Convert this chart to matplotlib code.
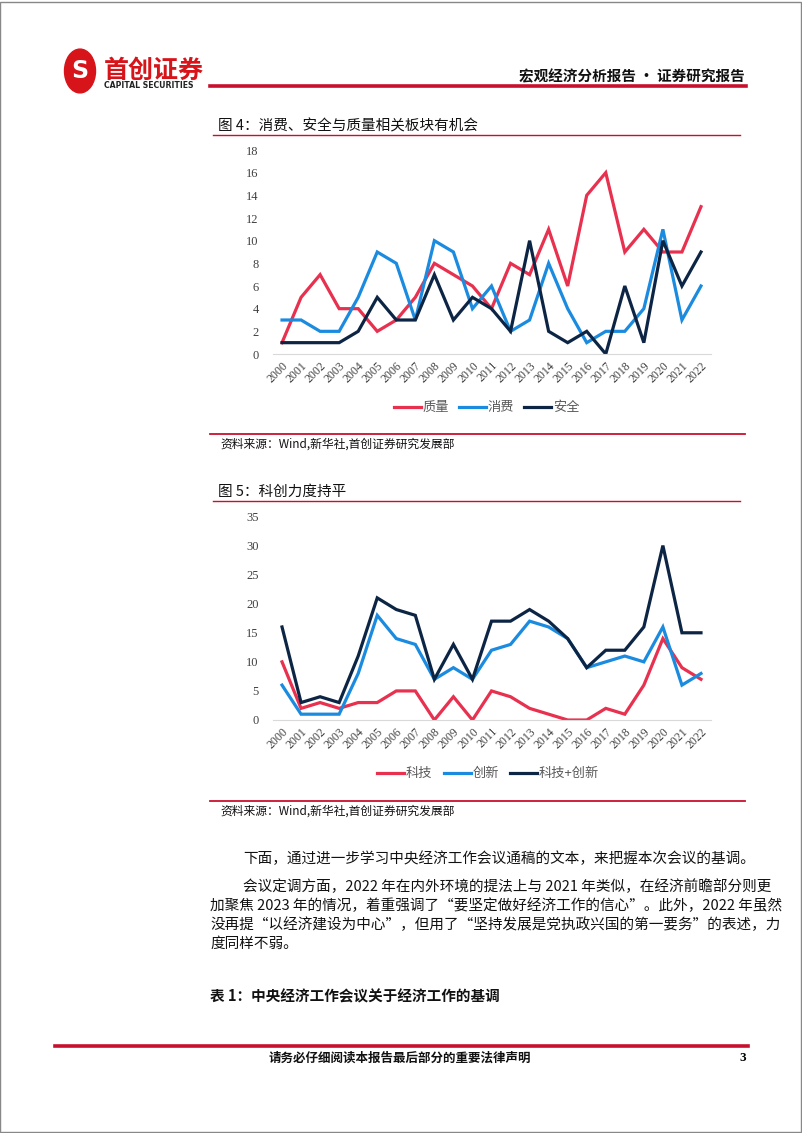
import matplotlib
matplotlib.use("Agg")
import matplotlib.pyplot as plt
from matplotlib.patches import Circle, Rectangle
from matplotlib.lines import Line2D

plt.rcParams['font.family'] = ['Noto Sans CJK SC', 'DejaVu Sans']

W, H = 802, 1133
years = [str(y) for y in range(2000, 2023)]

# Figure 4 data
quality = [1, 5, 7, 4, 4, 2, 3, 5, 8, 7, 6, 4, 8, 7, 11, 6, 14, 16, 9, 11, 9, 9, 13]
consumption = [3, 3, 2, 2, 5, 9, 8, 3, 10, 9, 4, 6, 2, 3, 8, 4, 1, 2, 2, 4, 11, 3, 6]
safety = [1, 1, 1, 1, 2, 5, 3, 3, 7, 3, 5, 4, 2, 10, 2, 1, 2, 0, 6, 1, 10, 6, 9]

# Figure 5 data
tech = [10, 2, 3, 2, 3, 3, 5, 5, 0, 4, 0, 5, 4, 2, 1, 0, 0, 2, 1, 6, 14, 9, 7]
innov = [6, 1, 1, 1, 8, 18, 14, 13, 7, 9, 7, 12, 13, 17, 16, 14, 9, 10, 11, 10, 16, 6, 8]
tech_innov = [16, 3, 4, 3, 11, 21, 19, 18, 7, 13, 7, 17, 17, 19, 17, 14, 9, 12, 12, 16, 30, 15, 15]

RED = '#E8304F'
BLUE = '#1B8BE0'
NAVY = '#0D2544'
LINE_RED = '#C8102E'

fig = plt.figure(figsize=(W / 100, H / 100), dpi=100)


def fx(x):
    return x / W


def fy(y):
    return 1 - y / H


def ftext(x, y, s, **kw):
    fig.text(fx(x), fy(y), s, **kw)


def hline(x0, x1, y, color=LINE_RED, lw=1.0):
    fig.add_artist(Line2D([fx(x0), fx(x1)], [fy(y), fy(y)], color=color, lw=lw,
                          transform=fig.transFigure))


# page frame
fig.add_artist(Rectangle((0.0005, 0.0005), 0.998, 0.998, transform=fig.transFigure,
                         fill=False, ec='#888888', lw=1.0))

# logo
fig.add_artist(Circle((fx(80), fy(71)), 15.5 / W, transform=fig.transFigure,
                      color='#D7141A'))
ftext(80, 71, 'S', fontsize=17, color='white', fontweight='bold', ha='center',
      va='center', family=['DejaVu Sans'])
ftext(104, 71, '首创证券', fontsize=18, fontweight='bold', color='#D7141A',
      ha='left', va='center')
ftext(104, 86, 'CAPITAL SECURITIES', fontsize=5.6, fontweight='bold', color='#222222',
      ha='left', va='center', family=['DejaVu Sans'])

# header
ftext(745, 76, '宏观经济分析报告 · 证券研究报告', fontsize=10.5, fontweight='bold',
      ha='right', va='center', color='#111111')
hline(210, 746, 86, lw=2.6)

# footer
hline(55, 748, 1046, lw=2.6)
ftext(400, 1058, '请务必仔细阅读本报告最后部分的重要法律声明', fontsize=9, fontweight='bold',
      ha='center', va='center', color='#111111')
ftext(746, 1058, '3', fontsize=9.5, fontweight='bold', ha='right', va='center',
      family=['Liberation Serif'])


def make_chart(top_title, title_line_y, ax_top, ax_bottom, ymax, ystep,
               series, labels, legend_y, legend_xs, src_line_y):
    ftext(218, top_title, title_line_y, fontsize=10.5, ha='left', va='center',
          color='#111111')


def chart(title, title_y, ax_top, ax_bottom, ymax, ystep, series, names,
          legend_y, legend_x, src_y):
    ftext(218, title_y, title, fontsize=10.5, ha='left', va='center', color='#111111')
    hline(213, 740, title_y + 9, lw=1.0)
    left, right = 272.5, 710.5
    ax = fig.add_axes([fx(left), fy(ax_bottom), (right - left) / W,
                       (ax_bottom - ax_top) / H])
    x = list(range(len(years)))
    for vals, col in zip(series, [RED, BLUE, NAVY]):
        ax.plot(x, vals, color=col, lw=2.3, solid_joinstyle='miter')
    ax.set_xlim(-0.5, len(years) - 0.5)
    ax.set_ylim(0, ymax)
    ax.set_yticks(range(0, ymax + 1, ystep))
    ax.set_xticks(x)
    ax.set_xticklabels(years, rotation=45, ha='right', rotation_mode='anchor',
                       family=['Liberation Serif'], fontsize=8.5, color='#404040')
    for lab in ax.get_yticklabels():
        lab.set_family(['Liberation Serif'])
        lab.set_fontsize(9)
        lab.set_color('#404040')
    for s in ['top', 'right', 'left']:
        ax.spines[s].set_visible(False)
    ax.spines['bottom'].set_color('#D9D9D9')
    ax.spines['bottom'].set_linewidth(0.8)
    ax.tick_params(axis='both', length=0)
    ax.tick_params(axis='y', pad=10)
    ax.tick_params(axis='x', pad=4)
    ax.patch.set_alpha(0)
    # legend
    for (lx, name), col in zip(zip(legend_x, names), [RED, BLUE, NAVY]):
        fig.add_artist(Line2D([fx(lx), fx(lx + 27)], [fy(legend_y), fy(legend_y)],
                              color=col, lw=2.3, transform=fig.transFigure))
        ftext(lx + 29, legend_y, name, fontsize=9.5, color='#595959', ha='left',
              va='center')
    hline(210, 745, src_y - 9, lw=1.3)
    ftext(220, src_y + 1, '资料来源：Wind,新华社,首创证券研究发展部', fontsize=8.5,
          ha='left', va='center', style='italic', color='#111111')


chart('图 4：消费、安全与质量相关板块有机会', 126, 150, 354, 18, 2,
      [quality, consumption, safety], ['质量', '消费', '安全'],
      407, [394, 459, 524], 443)

chart('图 5：科创力度持平', 492, 516.5, 720, 35, 5,
      [tech, innov, tech_innov], ['科技', '创新', '科技+创新'],
      773, [377, 444, 510], 810)

# body text
body = dict(fontsize=10.5, ha='left', va='center', color='#111111')
ftext(243, 859, '下面，通过进一步学习中央经济工作会议通稿的文本，来把握本次会议的基调。', **body)
ftext(243, 887, '会议定调方面，2022 年在内外环境的提法上与 2021 年类似，在经济前瞻部分则更', **body)
ftext(210, 906, '加聚焦 2023 年的情况，着重强调了“要坚定做好经济工作的信心”。此外，2022 年虽然', **body)
ftext(210, 925, '没再提“以经济建设为中心”，但用了“坚持发展是党执政兴国的第一要务”的表述，力', **body)
ftext(210, 944, '度同样不弱。', **body)
ftext(210, 996, '表 1：中央经济工作会议关于经济工作的基调', fontsize=10.5, fontweight='bold',
      ha='left', va='center', color='#111111')

fig.savefig('out.png', dpi=100)
